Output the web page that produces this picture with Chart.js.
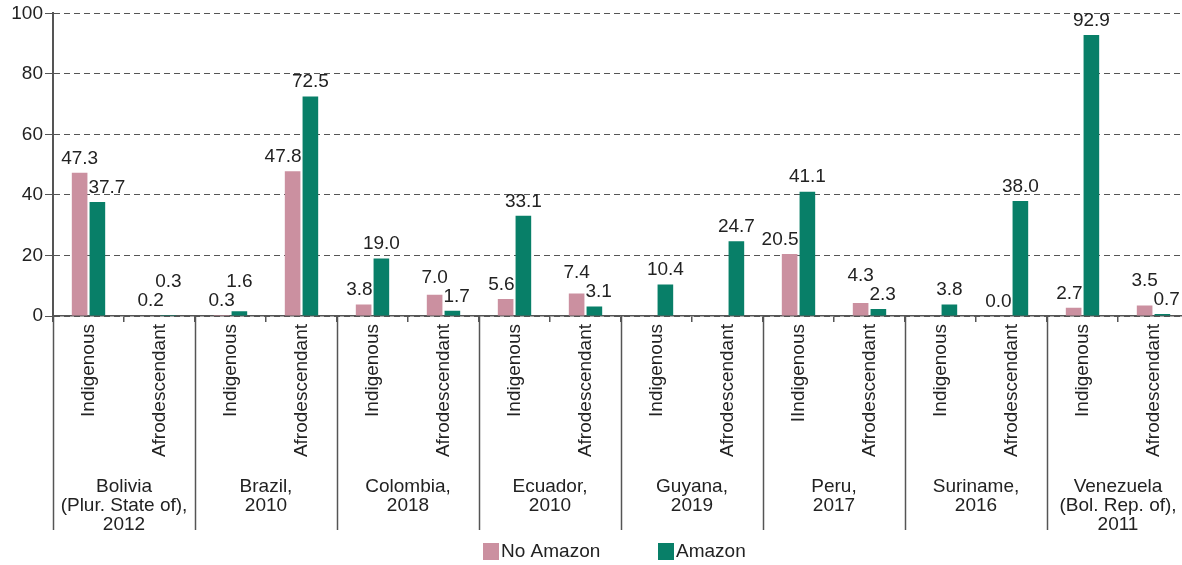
<!DOCTYPE html>
<html>
<head>
<meta charset="utf-8">
<script src="https://cdn.jsdelivr.net/npm/chart.js@4"></script>
<style>
  html, body { margin: 0; padding: 0; background: #fff; overflow: hidden; }
  #wrap { width: 1182px; height: 565px; overflow: hidden; }
</style>
</head>
<body>
<div id="wrap"><canvas id="myChart" width="1190" height="565"></canvas></div>
<script>
var groups = ['Indigenous', 'Afrodescendant', 'Indigenous', 'Afrodescendant', 'Indigenous', 'Afrodescendant',
  'Indigenous', 'Afrodescendant', 'Indigenous', 'Afrodescendant', 'IIndigenous', 'Afrodescendant',
  'Indigenous', 'Afrodescendant', 'Indigenous', 'Afrodescendant'];
var countries = [
  ['Bolivia', '(Plur. State of),', '2012'],
  ['Brazil,', '2010'],
  ['Colombia,', '2018'],
  ['Ecuador,', '2010'],
  ['Guyana,', '2019'],
  ['Peru,', '2017'],
  ['Suriname,', '2016'],
  ['Venezuela', '(Bol. Rep. of),', '2011']
];
var noAmazon = [47.3, 0.2, 0.3, 47.8, 3.8, 7.0, 5.6, 7.4, null, null, 20.5, 4.3, null, 0.0, 2.7, 3.5];
var amazon = [37.7, 0.3, 1.6, 72.5, 19.0, 1.7, 33.1, 3.1, 10.4, 24.7, 41.1, 2.3, 3.8, 38.0, 92.9, 0.7];
var seriesNames = ['No Amazon', 'Amazon'];

var FONT = '"Liberation Sans", Arial, sans-serif';
var ink = '#222';
var axisGrey = '#555';

// value labels over the bars, moved aside / up when they would hit the other bar or label
var valueLabels = {
  id: 'valueLabels',
  afterDatasetsDraw(chart) {
    var c = chart.ctx;
    var m0 = chart.getDatasetMeta(0), m1 = chart.getDatasetMeta(1);
    c.save();
    c.font = '19px ' + FONT;
    c.fillStyle = ink;
    c.textAlign = 'center';
    c.textBaseline = 'bottom';
    var H = 15;
    for (var i = 0; i < groups.length; i++) {
      var a = noAmazon[i], b = amazon[i];
      var e0 = m0.data[i], e1 = m1.data[i];
      var t0 = a !== null ? a.toFixed(1) : '', t1 = b !== null ? b.toFixed(1) : '';
      var w0 = c.measureText(t0).width, w1 = c.measureText(t1).width;
      var y0 = e0.y - 5, y1 = e1.y - 5;
      var x0 = e0.x, x1 = e1.x;
      if (a !== null && b !== null) {
        // keep clear of the neighbouring bar
        if (y0 > e1.y && x0 + w0 / 2 > e1.x - e1.width / 2 - 1) x0 = e1.x - e1.width / 2 - 1 - w0 / 2;
        if (y1 > e0.y && x1 - w1 / 2 < e0.x + e0.width / 2 + 1) x1 = e0.x + e0.width / 2 + 1 + w1 / 2;
        // stack the labels if they still collide
        var hit = (x0 + w0 / 2 > x1 - w1 / 2) && Math.abs(y0 - y1) < H + 4;
        if (hit) {
          if (a > b) y0 = y1 - H - 4; else y1 = y0 - H - 4;
        }
      }
      if (a !== null) c.fillText(t0, x0, y0);
      if (b !== null) c.fillText(t1, x1, y1);
    }
    c.restore();
  }
};

// country separators, country names and legend
var groupAxis = {
  id: 'groupAxis',
  afterDraw(chart) {
    var c = chart.ctx;
    var x = chart.scales.x;
    var top = chart.chartArea.bottom;
    var bottom = 530;
    c.save();
    c.strokeStyle = axisGrey;
    c.lineWidth = 1.5;
    for (var g = 0; g < countries.length; g++) {
      var px = g === 0 ? chart.chartArea.left
        : (x.getPixelForValue(g * 2 - 1) + x.getPixelForValue(g * 2)) / 2;
      c.beginPath();
      c.moveTo(Math.round(px) + 0.5, top);
      c.lineTo(Math.round(px) + 0.5, bottom);
      c.stroke();
    }
    c.font = '19px ' + FONT;
    c.fillStyle = ink;
    c.textAlign = 'center';
    c.textBaseline = 'top';
    countries.forEach(function (lines, g) {
      var cx = (x.getPixelForValue(g * 2) + x.getPixelForValue(g * 2 + 1)) / 2;
      lines.forEach(function (t, k) { c.fillText(t, cx, 477 + k * 19); });
    });
    // legend
    var items = [[483, 0], [658, 1]];
    c.textAlign = 'left';
    c.textBaseline = 'middle';
    items.forEach(function (it) {
      var ds = chart.data.datasets[it[1]];
      c.fillStyle = ds.backgroundColor;
      c.fillRect(it[0], 543, 16, 17);
      c.fillStyle = ink;
      c.fillText(ds.label, it[0] + 18, 552);
    });
    c.restore();
  }
};

var ctx = document.getElementById('myChart').getContext('2d');
var myChart = new Chart(ctx, {
  type: 'bar',
  data: {
    labels: groups,
    datasets: [
      { label: seriesNames[0], data: noAmazon, backgroundColor: '#cb90a0' },
      { label: seriesNames[1], data: amazon, backgroundColor: '#087f68' }
    ]
  },
  options: {
    responsive: false,
    animation: false,
    devicePixelRatio: 1,
    layout: { padding: { top: 3, right: 1, bottom: 35, left: 0 } },
    datasets: { bar: { categoryPercentage: 0.5, barPercentage: 0.88 } },
    plugins: { legend: { display: false }, tooltip: { enabled: false } },
    scales: {
      x: {
        offset: true,
        afterFit: function (s) { s.height = 214; },
        grid: { drawOnChartArea: false, tickLength: 6, color: axisGrey, lineWidth: 1.5 },
        border: { color: axisGrey, width: 1.5 },
        ticks: { autoSkip: false, minRotation: 90, maxRotation: 90, padding: 2, color: ink, font: { family: FONT, size: 19 } }
      },
      y: {
        min: 0, max: 100,
        afterFit: function (s) { s.width = 53; },
        grid: { color: axisGrey, lineWidth: 1, tickLength: 8, tickColor: axisGrey, tickBorderDash: [] },
        border: { color: axisGrey, width: 2, dash: [6, 4] },
        ticks: { stepSize: 20, padding: 2, color: ink, font: { family: FONT, size: 19 } }
      }
    }
  },
  plugins: [valueLabels, groupAxis]
});
</script>
</body>
</html>
